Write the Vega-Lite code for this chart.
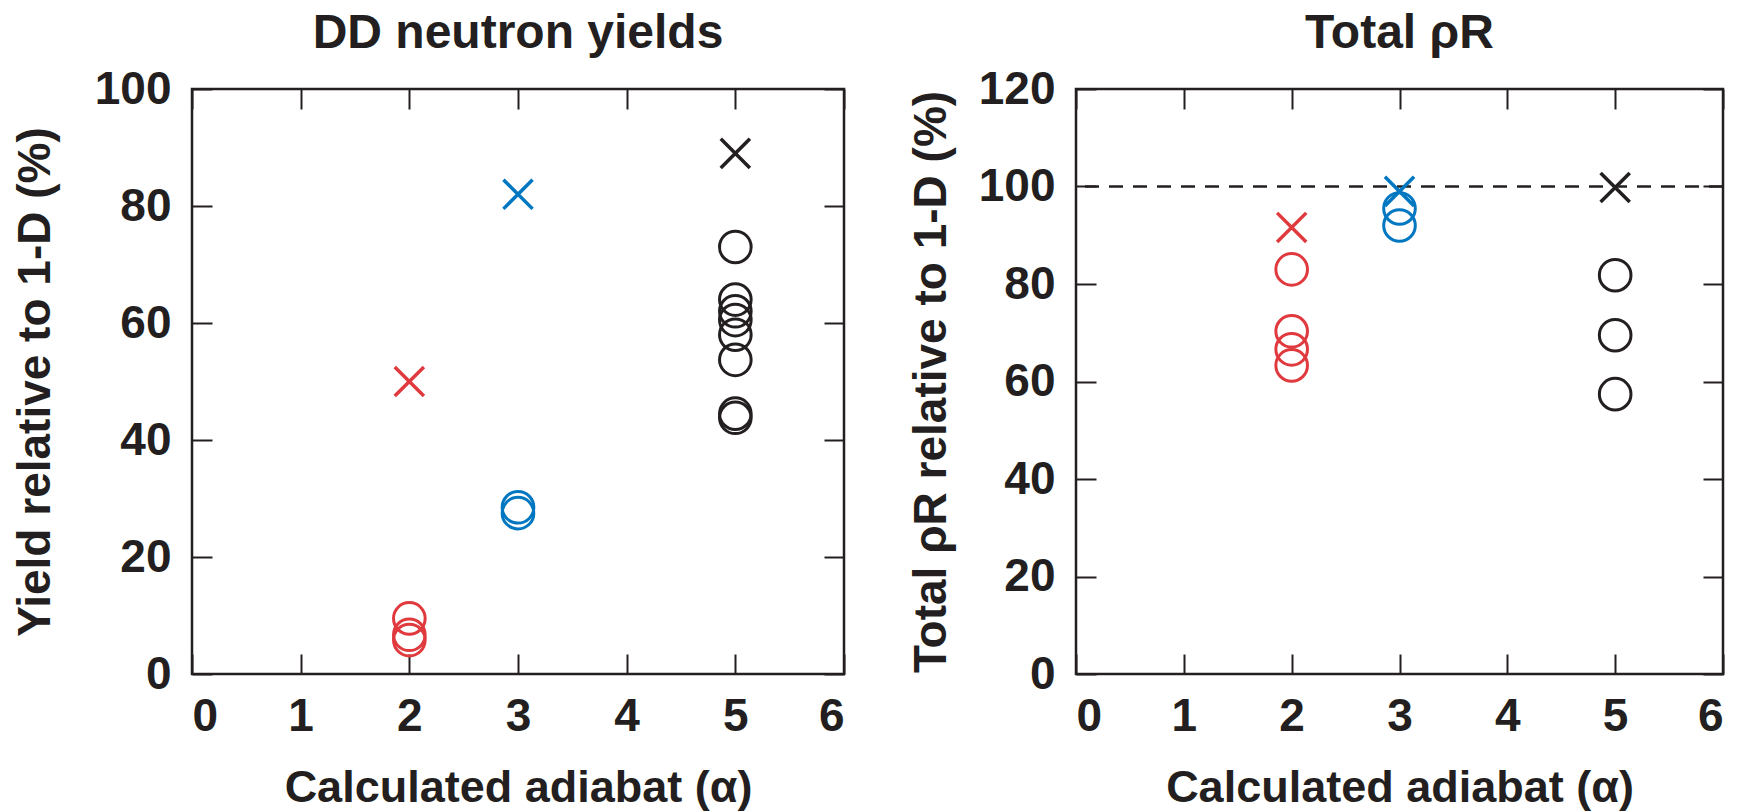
{
  "$schema": "https://vega.github.io/schema/vega-lite/v6.json",
  "background": "white",
  "padding": {"left": 11, "top": 8, "right": 5, "bottom": 0},
  "config": {
    "font": "Liberation Sans",
    "view": {"stroke": "#231F20", "strokeWidth": 2.5},
    "title": {"fontSize": 48, "fontWeight": "bold", "color": "#231F20", "offset": 8},
    "axis": {
      "domain": false, "grid": false,
      "labelFont": "Liberation Sans", "labelFontSize": 46, "labelFontWeight": "bold", "labelColor": "#231F20",
      "titleFont": "Liberation Sans", "titleFontSize": 46, "titleFontWeight": "bold", "titleColor": "#231F20",
      "tickColor": "#231F20", "tickWidth": 2, "tickSize": -20
    }
  },
  "spacing": 60,
  "hconcat": [
    {
      "title": "DD neutron yields",
      "width": 652, "height": 585,
      "data": {"values": [
        {"alpha": 2, "value": 50, "kind": "cross", "group": "a"},
        {"alpha": 2, "value": 9.5, "kind": "circle", "group": "a"},
        {"alpha": 2, "value": 6.7, "kind": "circle", "group": "a"},
        {"alpha": 2, "value": 5.8, "kind": "circle", "group": "a"},
        {"alpha": 3, "value": 82, "kind": "cross", "group": "b"},
        {"alpha": 3, "value": 28.5, "kind": "circle", "group": "b"},
        {"alpha": 3, "value": 27.5, "kind": "circle", "group": "b"},
        {"alpha": 5, "value": 89, "kind": "cross", "group": "c"},
        {"alpha": 5, "value": 73, "kind": "circle", "group": "c"},
        {"alpha": 5, "value": 64, "kind": "circle", "group": "c"},
        {"alpha": 5, "value": 62, "kind": "circle", "group": "c"},
        {"alpha": 5, "value": 60.5, "kind": "circle", "group": "c"},
        {"alpha": 5, "value": 58, "kind": "circle", "group": "c"},
        {"alpha": 5, "value": 53.7, "kind": "circle", "group": "c"},
        {"alpha": 5, "value": 44.5, "kind": "circle", "group": "c"},
        {"alpha": 5, "value": 43.8, "kind": "circle", "group": "c"}
      ]},
      "resolve": {"axis": {"x": "independent", "y": "independent"}},
      "layer": [
        {
          "transform": [{"filter": "datum.kind === 'circle'"}],
          "mark": {"type": "point", "shape": "circle", "filled": false, "size": 1000, "strokeWidth": 3, "opacity": 1},
          "encoding": {
            "x": {"field": "alpha", "type": "quantitative", "scale": {"domain": [0, 6], "nice": false},
                  "axis": {"orient": "bottom", "values": [0,1,2,3,4,5,6], "title": "Calculated adiabat (α)", "labelPadding": 40, "titlePadding": 26, "titleFontSize": 45}},
            "y": {"field": "value", "type": "quantitative", "scale": {"domain": [0, 100], "nice": false},
                  "axis": {"orient": "left", "values": [0,20,40,60,80,100], "title": "Yield relative to 1-D (%)", "labelPadding": 41, "titlePadding": 35}},
            "color": {"field": "group", "type": "nominal", "scale": {"domain": ["a","b","c"], "range": ["#E03A3E","#0077C0","#231F20"]}, "legend": null}
          }
        },
        {
          "transform": [{"filter": "datum.kind === 'cross'"}],
          "mark": {"type": "point", "shape": "M-1,-1L1,1M-1,1L1,-1", "filled": false, "size": 850, "strokeWidth": 3.5, "opacity": 1},
          "encoding": {
            "x": {"field": "alpha", "type": "quantitative", "scale": {"domain": [0, 6], "nice": false},
                  "axis": {"orient": "top", "values": [0,1,2,3,4,5,6], "labels": false, "title": null}},
            "y": {"field": "value", "type": "quantitative", "scale": {"domain": [0, 100], "nice": false},
                  "axis": {"orient": "right", "values": [0,20,40,60,80,100], "labels": false, "title": null}},
            "color": {"field": "group", "type": "nominal", "scale": {"domain": ["a","b","c"], "range": ["#E03A3E","#0077C0","#231F20"]}, "legend": null}
          }
        }
      ]
    },
    {
      "title": "Total ρR",
      "width": 647, "height": 585,
      "data": {"values": [
        {"alpha": 2, "value": 91.6, "kind": "cross", "group": "a"},
        {"alpha": 2, "value": 83, "kind": "circle", "group": "a"},
        {"alpha": 2, "value": 70.3, "kind": "circle", "group": "a"},
        {"alpha": 2, "value": 66.6, "kind": "circle", "group": "a"},
        {"alpha": 2, "value": 63.3, "kind": "circle", "group": "a"},
        {"alpha": 3, "value": 99, "kind": "cross", "group": "b"},
        {"alpha": 3, "value": 95.5, "kind": "circle", "group": "b"},
        {"alpha": 3, "value": 92, "kind": "circle", "group": "b"},
        {"alpha": 5, "value": 99.8, "kind": "cross", "group": "c"},
        {"alpha": 5, "value": 81.8, "kind": "circle", "group": "c"},
        {"alpha": 5, "value": 69.5, "kind": "circle", "group": "c"},
        {"alpha": 5, "value": 57.4, "kind": "circle", "group": "c"},
        {"value": 100, "kind": "ref"}
      ]},
      "resolve": {"axis": {"x": "independent", "y": "independent"}},
      "layer": [
        {
          "transform": [{"filter": "datum.kind === 'ref'"}],
          "mark": {"type": "rule", "strokeDash": [14, 10], "strokeWidth": 2.5, "color": "#231F20"},
          "encoding": {
            "y": {"field": "value", "type": "quantitative", "scale": {"domain": [0, 120], "nice": false}, "axis": null}
          }
        },
        {
          "transform": [{"filter": "datum.kind === 'circle'"}],
          "mark": {"type": "point", "shape": "circle", "filled": false, "size": 1000, "strokeWidth": 3, "opacity": 1},
          "encoding": {
            "x": {"field": "alpha", "type": "quantitative", "scale": {"domain": [0, 6], "nice": false},
                  "axis": {"orient": "bottom", "values": [0,1,2,3,4,5,6], "title": "Calculated adiabat (α)", "labelPadding": 40, "titlePadding": 26, "titleFontSize": 45}},
            "y": {"field": "value", "type": "quantitative", "scale": {"domain": [0, 120], "nice": false},
                  "axis": {"orient": "left", "values": [0,20,40,60,80,100,120], "title": "Total ρR relative to 1-D (%)", "labelPadding": 41, "titlePadding": 23}},
            "color": {"field": "group", "type": "nominal", "scale": {"domain": ["a","b","c"], "range": ["#E03A3E","#0077C0","#231F20"]}, "legend": null}
          }
        },
        {
          "transform": [{"filter": "datum.kind === 'cross'"}],
          "mark": {"type": "point", "shape": "M-1,-1L1,1M-1,1L1,-1", "filled": false, "size": 850, "strokeWidth": 3.5, "opacity": 1},
          "encoding": {
            "x": {"field": "alpha", "type": "quantitative", "scale": {"domain": [0, 6], "nice": false},
                  "axis": {"orient": "top", "values": [0,1,2,3,4,5,6], "labels": false, "title": null}},
            "y": {"field": "value", "type": "quantitative", "scale": {"domain": [0, 120], "nice": false},
                  "axis": {"orient": "right", "values": [0,20,40,60,80,100,120], "labels": false, "title": null}},
            "color": {"field": "group", "type": "nominal", "scale": {"domain": ["a","b","c"], "range": ["#E03A3E","#0077C0","#231F20"]}, "legend": null}
          }
        }
      ]
    }
  ]
}
